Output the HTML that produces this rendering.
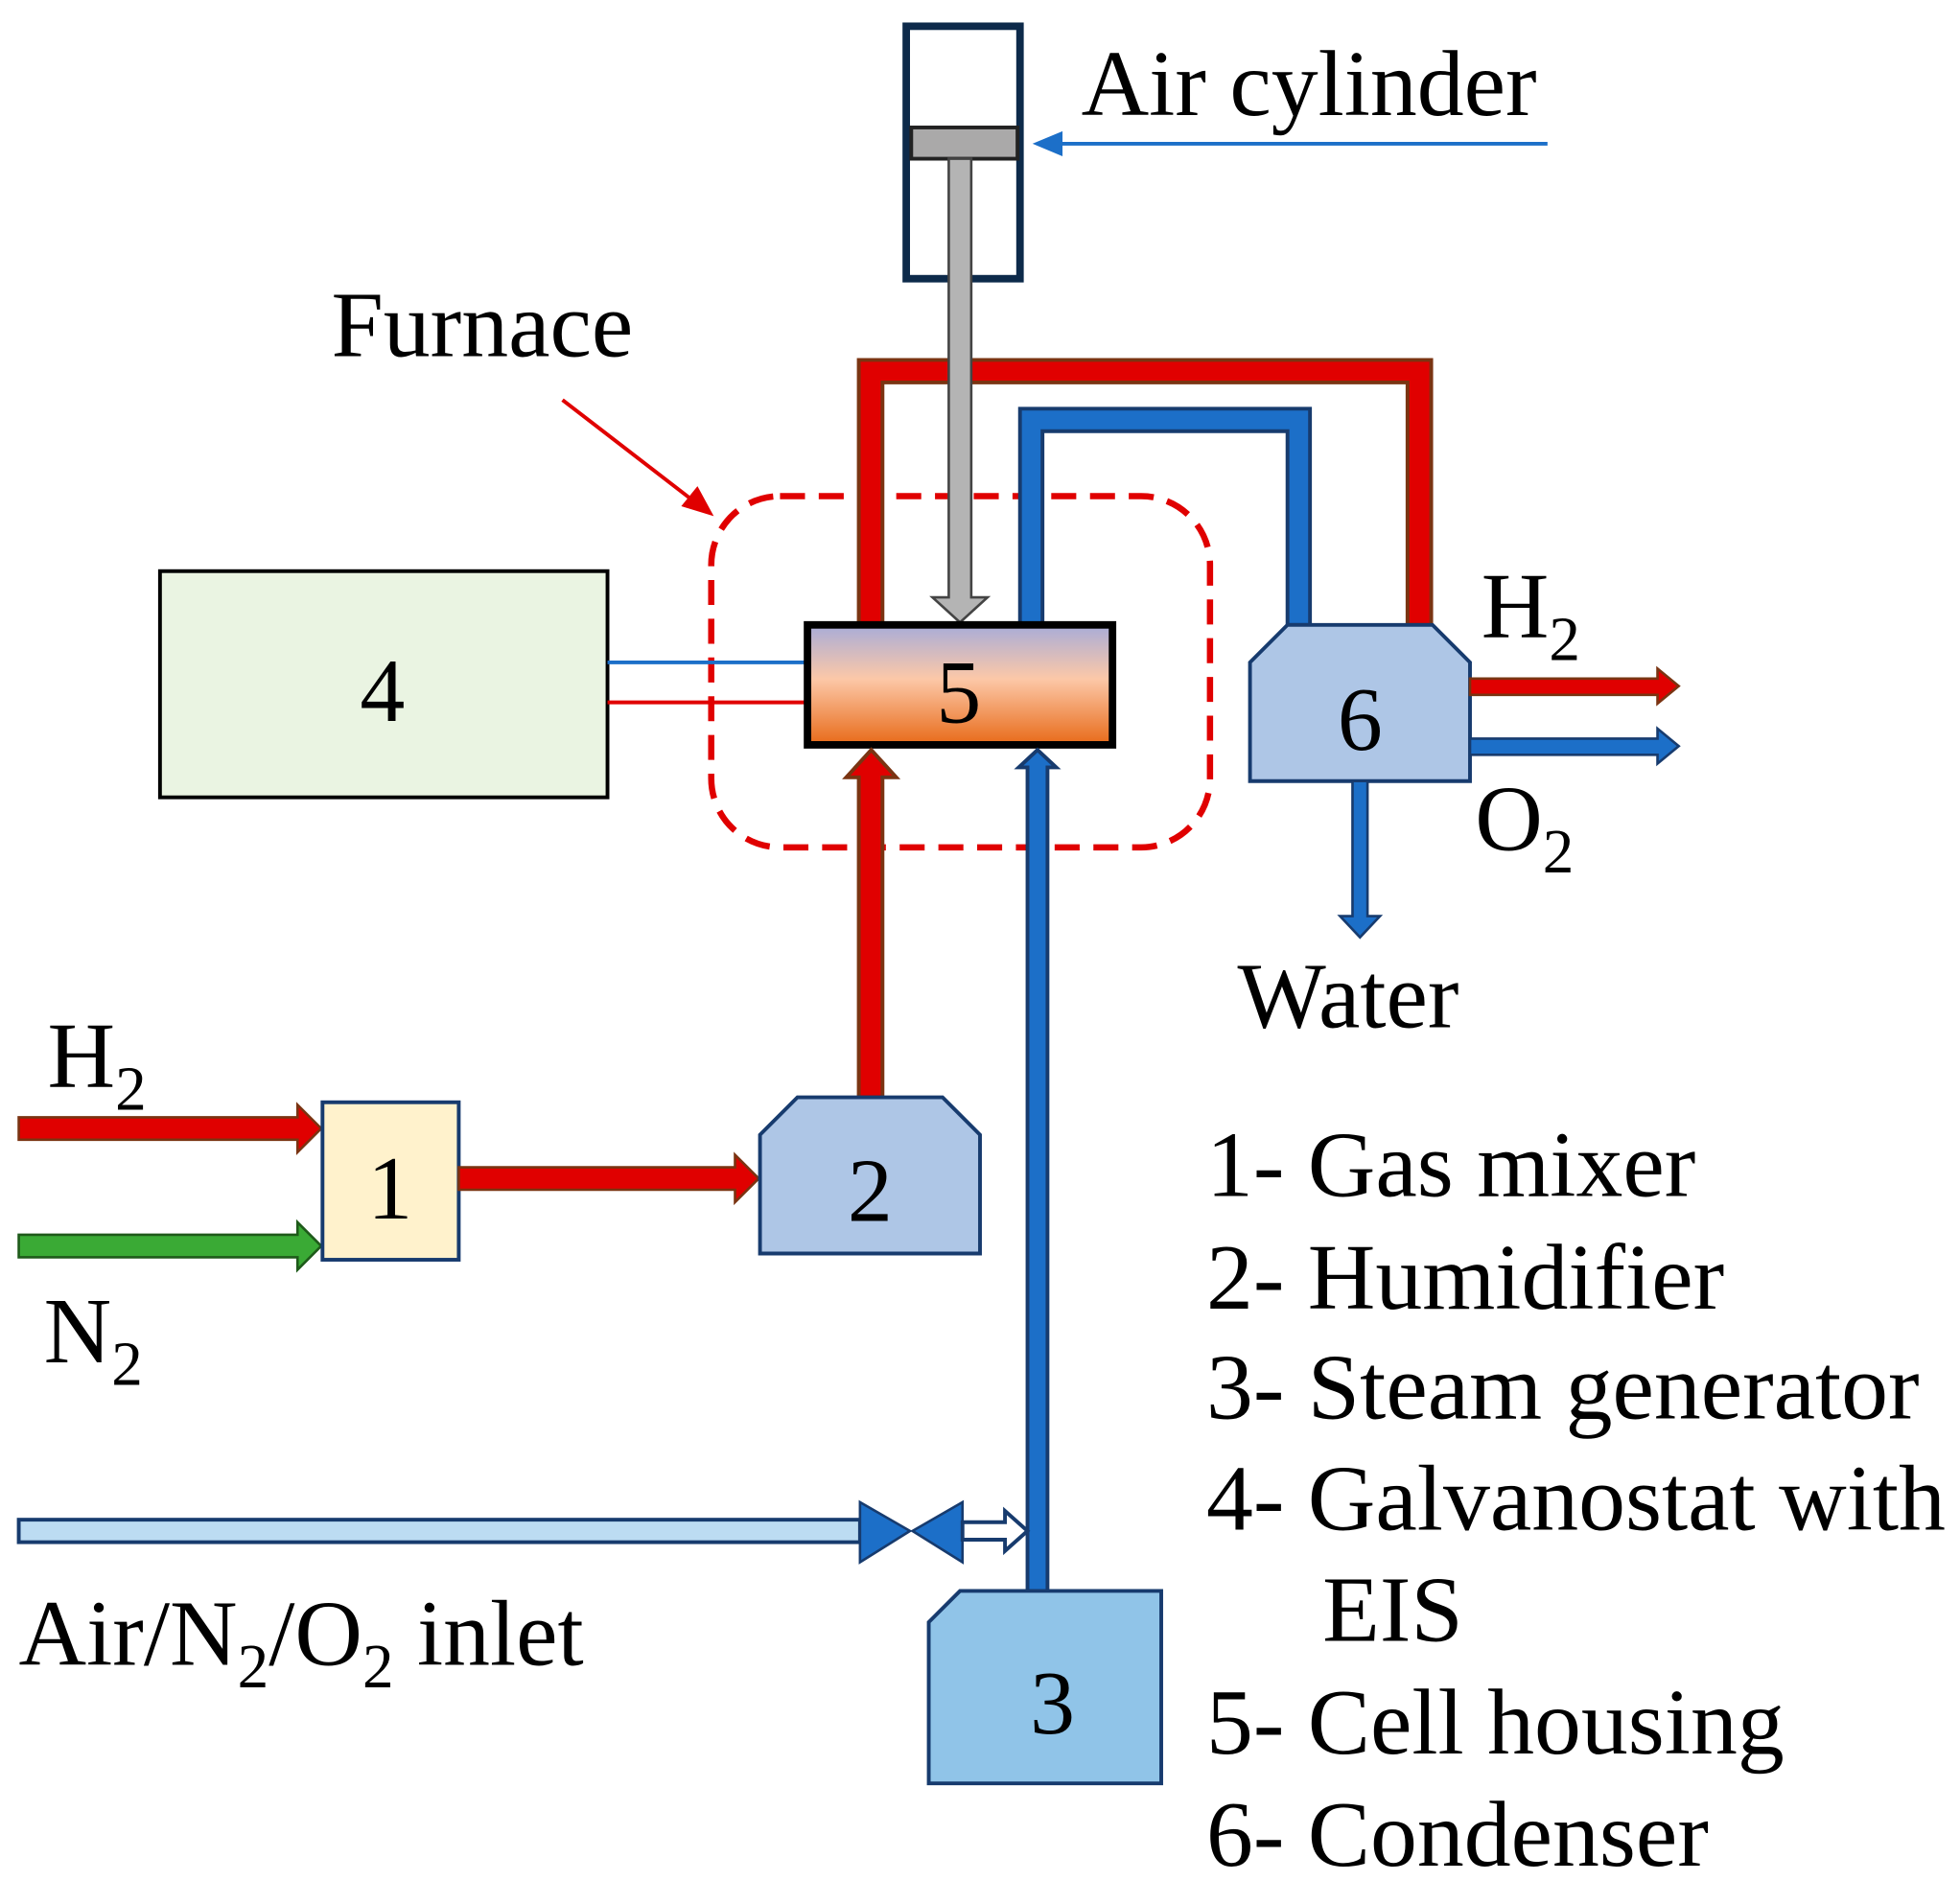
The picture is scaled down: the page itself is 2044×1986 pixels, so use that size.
<!DOCTYPE html>
<html><head><meta charset="utf-8"><style>
html,body{margin:0;padding:0;background:#fff;}
svg{display:block;}
text{font-family:"Liberation Serif",serif;fill:#000;}
</style></head><body>
<svg width="2044" height="1986" viewBox="0 0 1568 1523.5" xmlns="http://www.w3.org/2000/svg">
<defs>
<linearGradient id="g5" x1="0" y1="0" x2="0" y2="1">
<stop offset="0" stop-color="#a8acd8"/><stop offset="0.45" stop-color="#fcc8a8"/><stop offset="1" stop-color="#e86a18"/>
</linearGradient>
</defs>
<rect width="1568" height="1523.5" fill="#fff"/>

<!-- Air cylinder -->
<rect x="725" y="21" width="91" height="202" fill="#fff" stroke="#0d2a4a" stroke-width="6"/>
<rect x="729" y="102" width="85" height="25" fill="#aaa9a9" stroke="#222" stroke-width="3"/>
<line x1="1238" y1="115" x2="845" y2="115" stroke="#1c6fc8" stroke-width="3"/>
<polygon points="826,115 850,105 850,125" fill="#1c6fc8"/>
<text x="865" y="92" font-size="75">Air cylinder</text>

<!-- Furnace -->
<text x="265" y="285" font-size="75">Furnace</text>
<line x1="450" y1="320" x2="555" y2="401" stroke="#e00000" stroke-width="3"/>
<polygon points="571,413 545,405 558,389" fill="#e00000"/>
<rect x="569" y="397" width="399" height="281" rx="55" fill="none" stroke="#e00000" stroke-width="5" stroke-dasharray="20 11"/>

<!-- Red pipe top -->
<path d="M687,500 V288 H1145 V500 H1126 V306 H706 V500 Z" fill="#e00000" stroke="#7a3412" stroke-width="3"/>
<!-- Blue pipe top -->
<path d="M816,500 V327 H1048 V500 H1030 V345 H834 V500 Z" fill="#1c6fc8" stroke="#173b6e" stroke-width="3"/>
<!-- rod -->
<polygon points="759,127 777,127 777,478 790,478 768,498 746,478 759,478" fill="#b4b4b4" stroke="#444" stroke-width="2"/>

<!-- Box 4 -->
<rect x="128" y="457" width="358" height="181" fill="#eaf4e2" stroke="#000" stroke-width="3"/>
<text x="306" y="577" font-size="72" text-anchor="middle">4</text>
<line x1="486" y1="530" x2="648" y2="530" stroke="#1c6fc8" stroke-width="3"/>
<line x1="486" y1="562" x2="648" y2="562" stroke="#e00000" stroke-width="3"/>

<!-- Cell 5 -->
<rect x="646" y="500" width="244" height="96" fill="url(#g5)" stroke="#000" stroke-width="6"/>
<text x="767" y="578" font-size="72" text-anchor="middle">5</text>

<!-- Red arrow 2->5 -->
<polygon points="687,878 687,622 677,622 697,600 717,622 706,622 706,878" fill="#e00000" stroke="#7a3412" stroke-width="3"/>
<!-- Blue pipe 3->5 -->
<polygon points="822,1273 822,614 815,614 830,600 845,614 838,614 838,1273" fill="#1c6fc8" stroke="#173b6e" stroke-width="3"/>

<!-- Condenser 6 -->
<polygon points="1030,500 1146,500 1176,530 1176,625 1000,625 1000,530" fill="#aec6e6" stroke="#173b6e" stroke-width="3"/>
<text x="1088" y="600" font-size="72" text-anchor="middle">6</text>
<polygon points="1176,543 1326,543 1326,535 1343,549 1326,563 1326,556 1176,556" fill="#e00000" stroke="#7a3412" stroke-width="2"/>
<polygon points="1176,591 1326,591 1326,583 1343,597 1326,611 1326,604 1176,604" fill="#1c6fc8" stroke="#173b6e" stroke-width="2"/>
<polygon points="1082,625 1094,625 1094,733 1104,733 1088,750 1072,733 1082,733" fill="#1c6fc8" stroke="#173b6e" stroke-width="2"/>
<text x="1185" y="510" font-size="75">H<tspan font-size="50" dy="18">2</tspan></text>
<text x="1180" y="680" font-size="75">O<tspan font-size="50" dy="18">2</tspan></text>
<text x="990" y="822" font-size="75">Water</text>

<!-- Inputs to 1 -->
<polygon points="15,894 238,894 238,884 257,903 238,922 238,912 15,912" fill="#e00000" stroke="#7a3412" stroke-width="2"/>
<polygon points="15,988 238,988 238,978 257,997 238,1016 238,1006 15,1006" fill="#3aaa35" stroke="#1e5a1a" stroke-width="2"/>
<text x="38" y="870" font-size="75">H<tspan font-size="50" dy="18">2</tspan></text>
<text x="35" y="1090" font-size="75">N<tspan font-size="50" dy="18">2</tspan></text>

<!-- Box 1 -->
<rect x="258" y="882" width="109" height="126" fill="#fff2cc" stroke="#173b6e" stroke-width="3"/>
<text x="312" y="975" font-size="72" text-anchor="middle">1</text>
<polygon points="367,934 588,934 588,924 607,943 588,962 588,952 367,952" fill="#e00000" stroke="#7a3412" stroke-width="2"/>

<!-- Humidifier 2 -->
<polygon points="638,878 754,878 784,908 784,1003 608,1003 608,908" fill="#aec6e6" stroke="#173b6e" stroke-width="3"/>
<text x="696" y="977" font-size="72" text-anchor="middle">2</text>

<!-- Air inlet -->
<rect x="15" y="1216" width="673" height="18" fill="#bcdcf2" stroke="#173b6e" stroke-width="3"/>
<polygon points="688,1202 728,1225 688,1250" fill="#1c6fc8" stroke="#173b6e" stroke-width="2"/>
<polygon points="770,1202 730,1225 770,1250" fill="#1c6fc8" stroke="#173b6e" stroke-width="2"/>
<polygon points="770,1218 804,1218 804,1209 822,1225 804,1241 804,1232 770,1232" fill="#fff" stroke="#173b6e" stroke-width="3"/>
<text x="15" y="1332" font-size="75">Air/N<tspan font-size="50" dy="18">2</tspan><tspan dy="-18">/O</tspan><tspan font-size="50" dy="18">2</tspan><tspan dy="-18"> inlet</tspan></text>

<!-- Steam generator 3 -->
<polygon points="768,1273 929,1273 929,1427 743,1427 743,1298" fill="#90c4e8" stroke="#173b6e" stroke-width="3"/>
<text x="842" y="1387" font-size="72" text-anchor="middle">3</text>

<!-- Legend -->
<g font-size="75">
<text x="965" y="957">1- Gas mixer</text>
<text x="965" y="1047">2- Humidifier</text>
<text x="965" y="1135">3- Steam generator</text>
<text x="965" y="1224">4- Galvanostat with</text>
<text x="1058" y="1313">EIS</text>
<text x="965" y="1403">5- Cell housing</text>
<text x="965" y="1493">6- Condenser</text>
</g>
</svg>
</body></html>
